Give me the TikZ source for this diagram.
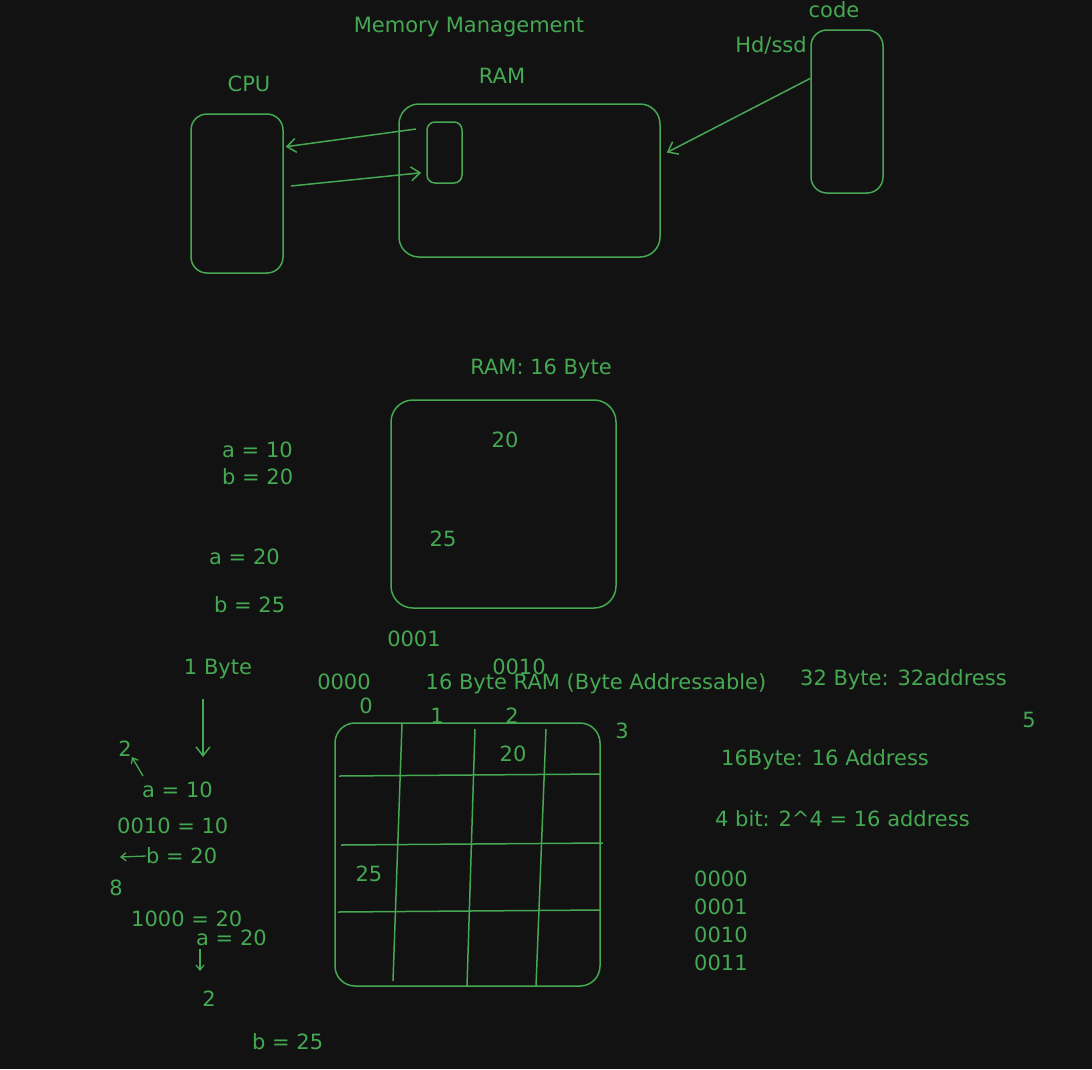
\documentclass[tikz,border=0pt]{standalone}
\usepackage{fontspec}
\setmainfont{DejaVu Sans}
\usetikzlibrary{arrows.meta}
\definecolor{board}{HTML}{121212}
\definecolor{ink}{HTML}{45A852}
\tikzset{
  sketch/.style={draw=ink, line width=1.5pt, rounded corners=#1},
  sketch/.default=16pt,
  lbl/.style={text=ink, font=\fontsize{21}{25}\selectfont, inner sep=0pt},
  barb/.style={draw=ink, line width=1.5pt, -{Straight Barb[length=9pt,width=14pt]}},
  tick/.style={draw=ink, line width=1.3pt, -{Straight Barb[length=5pt,width=8pt]}},
}

\begin{document}
\begin{tikzpicture}[x=1pt, y=-1pt]
  \fill[board] (0,0) rectangle (1092,1069);
  \useasboundingbox (0,0) rectangle (1092,1069);

  % how the program reaches memory
  \node[lbl] (title) at (469,27) {Memory Management};
  \node[sketch, minimum width=92pt, minimum height=159pt] (cpu) at (237,193.5) {};
  \node[sketch=20pt, minimum width=261pt, minimum height=153pt] (ram) at (529.5,180.5) {};
  \node[sketch=8pt, minimum width=35pt, minimum height=61pt] (cell) at (444.5,152.5) {};
  \node[sketch, minimum width=72pt, minimum height=163pt] (disk) at (847,111.5) {};
  \node[lbl] (cpulbl) at (249,84) {CPU};
  \node[lbl] (ramlbl) at (502,76) {RAM};
  \node[lbl] (codelbl) at (834,10) {code};
  \node[lbl] (disklbl) at (771,45) {Hd/ssd};

  \coordinate (fetch) at (416,129);
  \coordinate (store) at (291,186);
  \draw[barb] (fetch) -- ([xshift=2pt]cpu.45);
  \draw[barb] (store) -- ([xshift=-5pt]cell.228);
  \draw[barb] (disk.138) -- ([xshift=6pt]ram.12);

  % a 16 byte ram
  \node[lbl] (ramsize) at (541,369) {RAM: 16 Byte};
  \node[sketch=22pt, minimum width=225pt, minimum height=208pt] (ramtwo) at (503.5,504) {};
  \node[lbl] (vtwenty) at (505,440) {20};
  \node[lbl] (vfive) at (443,539) {25};
  \node[lbl, anchor=west] (aten) at (222,450) {a = 10};
  \node[lbl, anchor=west] (btwenty) at (222,477) {b = 20};
  \node[lbl, anchor=west] (atwenty) at (209,557) {a = 20};
  \node[lbl, anchor=west] (bfive) at (214,605) {b = 25};

  % byte addressable grid
  \node[lbl] (addrone) at (414,639) {0001};
  \node[lbl] (addrtwo) at (519,667) {0010};
  \node[lbl] (addrzero) at (344,682) {0000};
  \node[lbl] (gridlbl) at (596,684) {16 Byte RAM (Byte Addressable)};
  \node[lbl] (colzero) at (366,706) {0};
  \node[lbl] (colone) at (437,716) {1};
  \node[lbl] (coltwo) at (512,716) {2};
  \node[lbl] (colthree) at (622,731) {3};
  \node[sketch=20pt, minimum width=265pt, minimum height=263pt] (grid) at (467.5,854.5) {};
  \foreach \xa/\ya/\xb/\yb in {339/776/601/774, 341/845/603/843, 338/912/601/910,
      402/724/393/981, 475/729/467/986, 546/729/536/986}
    \draw[ink, line width=1.5pt] (\xa,\ya) -- (\xb,\yb);
  \node[lbl] (gtwenty) at (513,754) {20};
  \node[lbl] (gfive) at (369,874) {25};

  % notes on the left
  \node[lbl] (onebyte) at (218,669) {1 Byte};
  \coordinate (bytetip) at (203,757);
  \draw[barb] ([yshift=-20pt, xshift=-15pt]onebyte.south) -- (bytetip);
  \node[lbl] (two) at (125,749) {2};
  \node[lbl, anchor=west] (atenb) at (142,790) {a = 10};
  \coordinate (upfoot) at (143,776);
  \draw[tick] (upfoot) -- (two.south east);
  \node[lbl, anchor=west] (bintwo) at (117,826) {0010 = 10};
  \node[lbl, anchor=west] (btwentyb) at (146,856) {b = 20};
  \coordinate (lefttip) at (120,857);
  \draw[tick] (btwentyb.west) -- (lefttip);
  \node[lbl] (eight) at (116,888) {8};
  \node[lbl, anchor=west] (bineight) at (131,919) {1000 = 20};
  \node[lbl, anchor=west] (atwentyb) at (196,938) {a = 20};
  \node[lbl] (twob) at (209,999) {2};
  \coordinate (downtip) at (200,971);
  \draw[tick] ([xshift=4pt,yshift=-3pt]atwentyb.south west) -- (downtip);
  \node[lbl, anchor=west] (bfiveb) at (252,1042) {b = 25};

  % notes on the right
  \node[lbl, anchor=west] (thirtytwo) at (800,680) {32 Byte: 32address};
  \node[lbl] (five) at (1029,720) {5};
  \node[lbl, anchor=west] (sixteen) at (721,760) {16Byte: 16 Address};
  \node[lbl, anchor=west] (fourbit) at (715,819) {4 bit: 2\^{}4 = 16 address};
  \node[lbl, anchor=west] (bzero) at (694,879) {0000};
  \node[lbl, anchor=west] (bone) at (694,907) {0001};
  \node[lbl, anchor=west] (btwo) at (694,935) {0010};
  \node[lbl, anchor=west] (bthree) at (694,963) {0011};
\end{tikzpicture}
\end{document}
